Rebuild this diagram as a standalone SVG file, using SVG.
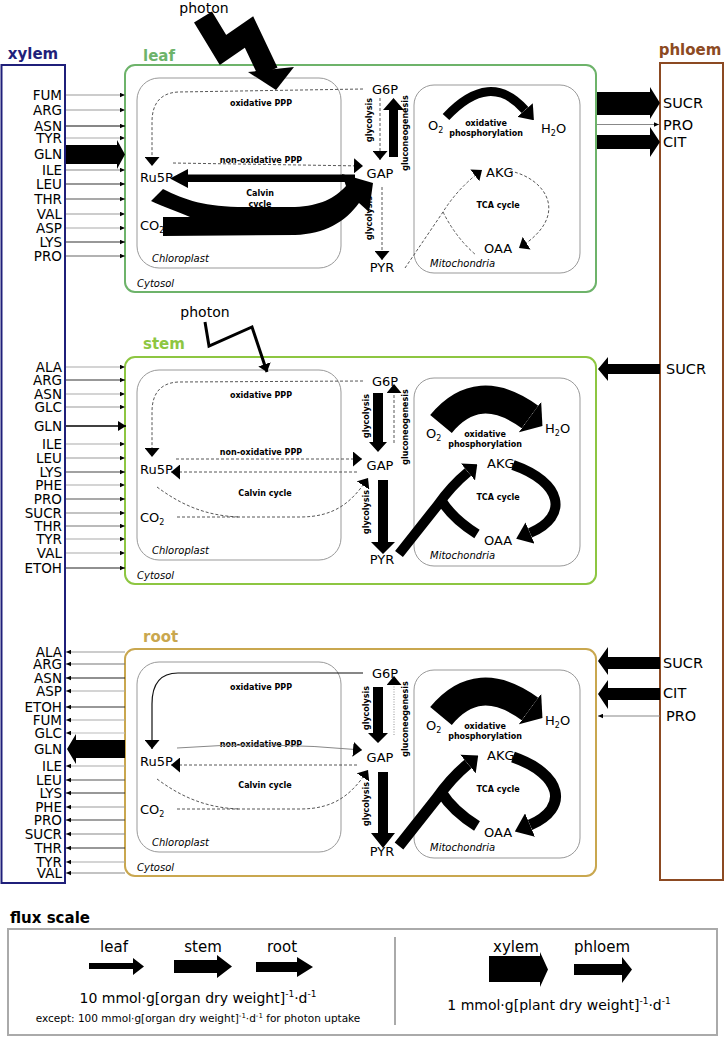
<svg xmlns="http://www.w3.org/2000/svg" width="725" height="1037" viewBox="0 0 725 1037">
<style>
.t{font-family:"DejaVu Sans",Verdana,sans-serif;fill:#000}
.lab{font-size:13.5px;text-anchor:end}
.plab{font-size:14.5px}
.met{font-size:13px}
.b8{font-size:8px;font-weight:bold}
.it{font-size:10px;font-style:italic}
.ttl{font-size:15px;font-weight:bold}
.dash{fill:none;stroke:#444;stroke-width:0.9;stroke-dasharray:3 2}
.thin{fill:none;stroke-width:1.2}
.chl{fill:none;stroke:#999;stroke-width:1}
.band{fill:none;stroke:#000;stroke-linecap:butt}
</style>
<defs>
<marker id="mT" viewBox="0 0 10 10" refX="10" refY="5" markerUnits="userSpaceOnUse" markerWidth="5" markerHeight="5" orient="auto"><path d="M0,0.5 L10,5 L0,9.5 z" fill="#000"/></marker>
<marker id="mT2" viewBox="0 0 10 10" refX="10" refY="5" markerUnits="userSpaceOnUse" markerWidth="8" markerHeight="10" orient="auto" preserveAspectRatio="none"><path d="M0,0 L10,5 L0,10 z" fill="#000"/></marker>
<marker id="mD" viewBox="0 0 10 10" refX="10" refY="5" markerUnits="userSpaceOnUse" markerWidth="9" markerHeight="15" orient="auto" preserveAspectRatio="none"><path d="M0,0 L10,5 L0,10 z" fill="#000"/></marker>
<marker id="mP" viewBox="0 0 10 10" refX="10" refY="5" markerUnits="userSpaceOnUse" markerWidth="8" markerHeight="13" orient="auto" preserveAspectRatio="none"><path d="M0,0 L10,5 L0,10 z" fill="#000"/></marker>
<marker id="mK" viewBox="0 0 10 10" refX="0" refY="5" markerWidth="1.5" markerHeight="2.3" orient="auto" preserveAspectRatio="none"><path d="M0,0 L10,5 L0,10 z" fill="#000"/></marker>
<marker id="mK2" viewBox="0 0 10 10" refX="0" refY="5" markerWidth="1.2" markerHeight="2.2" orient="auto" preserveAspectRatio="none"><path d="M0,0 L10,5 L0,10 z" fill="#000"/></marker>
<marker id="mW" viewBox="0 0 10 10" refX="0" refY="5" markerWidth="0.55" markerHeight="1.35" orient="auto" preserveAspectRatio="none"><path d="M0,0 L10,5 L0,10 z" fill="#000"/></marker>
</defs>
<rect width="725" height="1037" fill="#fff"/>

<!-- xylem -->
<g id="xylem">
<rect x="1.5" y="65" width="63.5" height="818" fill="none" stroke="#1f1f7a" stroke-width="2"/>
<text x="33" y="59" class="t ttl" text-anchor="middle" style="fill:#1f1f7a">xylem</text>
<g class="t lab">
<text x="62" y="100">FUM</text><text x="62" y="115">ARG</text><text x="62" y="131">ASN</text><text x="62" y="143">TYR</text><text x="62" y="159">GLN</text><text x="62" y="175">ILE</text><text x="62" y="189">LEU</text><text x="62" y="204">THR</text><text x="62" y="219">VAL</text><text x="62" y="233">ASP</text><text x="62" y="247">LYS</text><text x="62" y="261">PRO</text>
<text x="62" y="372">ALA</text><text x="62" y="385">ARG</text><text x="62" y="399">ASN</text><text x="62" y="412">GLC</text><text x="62" y="431">GLN</text><text x="62" y="449">ILE</text><text x="62" y="463">LEU</text><text x="62" y="477">LYS</text><text x="62" y="490">PHE</text><text x="62" y="504">PRO</text><text x="62" y="518">SUCR</text><text x="62" y="531">THR</text><text x="62" y="544">TYR</text><text x="62" y="558">VAL</text><text x="62" y="573">ETOH</text>
<text x="62" y="657">ALA</text><text x="62" y="669">ARG</text><text x="62" y="683">ASN</text><text x="62" y="696">ASP</text><text x="62" y="712">ETOH</text><text x="62" y="725">FUM</text><text x="62" y="738">GLC</text><text x="62" y="754">GLN</text><text x="62" y="771">ILE</text><text x="62" y="785">LEU</text><text x="62" y="798">LYS</text><text x="62" y="812">PHE</text><text x="62" y="825">PRO</text><text x="62" y="839">SUCR</text><text x="62" y="853">THR</text><text x="62" y="867">TYR</text><text x="62" y="878">VAL</text>
</g>
</g>

<!-- phloem -->
<g id="phloem">
<rect x="660" y="63" width="63" height="817" fill="none" stroke="#8c4a22" stroke-width="2"/>
<text x="690" y="55" class="t ttl" text-anchor="middle" style="fill:#8c4a22">phloem</text>
<g class="t plab">
<text x="663" y="108">SUCR</text><text x="663" y="130">PRO</text><text x="663" y="147">CIT</text>
<text x="666" y="374">SUCR</text>
<text x="663" y="668">SUCR</text><text x="663" y="698">CIT</text><text x="666" y="721">PRO</text>
</g>
</g>

<!-- leaf -->
<g id="leaf">
<rect x="125" y="65" width="471" height="227" rx="10" fill="none" stroke="#6db36a" stroke-width="2"/>
<text x="143" y="61" class="t ttl" style="fill:#6db36a">leaf</text>
<rect x="137" y="78" width="204" height="190" rx="22" class="chl"/>
<rect x="414" y="85" width="166" height="188" rx="20" class="chl"/>
<text x="152" y="262" class="t it">Chloroplast</text>
<text x="137" y="287" class="t it">Cytosol</text>
<text x="430" y="267" class="t it">Mitochondria</text>
<text x="385" y="94" class="t met" text-anchor="middle">G6P</text>
<text x="380" y="178" class="t met" text-anchor="middle">GAP</text>
<text x="382" y="272" class="t met" text-anchor="middle">PYR</text>
<text x="140" y="182" class="t met">Ru5P</text>
<text x="140" y="230" class="t met">CO<tspan font-size="8" dy="3">2</tspan></text>
<text x="486" y="177" class="t met">AKG</text>
<text x="484" y="253" class="t met">OAA</text>
<text x="428" y="130" class="t met">O<tspan font-size="8" dy="3">2</tspan></text>
<text x="541" y="133" class="t met">H<tspan font-size="8" dy="3">2</tspan><tspan dy="-3">O</tspan></text>
<text x="261" y="106" class="t b8" text-anchor="middle">oxidative PPP</text>
<text x="261" y="163" class="t b8" text-anchor="middle">non-oxidative PPP</text>
<text x="260" y="196" class="t b8" text-anchor="middle">Calvin</text>
<text x="260" y="207" class="t b8" text-anchor="middle">cycle</text>
<text x="486" y="126" class="t b8" text-anchor="middle">oxidative</text>
<text x="486" y="136" class="t b8" text-anchor="middle">phosphorylation</text>
<text x="498" y="208" class="t b8" text-anchor="middle">TCA cycle</text>
<text transform="translate(372,120) rotate(-90)" class="t b8" text-anchor="middle">glycolysis</text>
<text transform="translate(372,218) rotate(-90)" class="t b8" text-anchor="middle">glycolysis</text>
<text transform="translate(408,133) rotate(-90)" class="t b8" text-anchor="middle">gluconeogenesis</text>
</g>

<!-- stem -->
<g id="stem" transform="translate(0,292)">
<rect x="125" y="65" width="471" height="227" rx="10" fill="none" stroke="#8dc641" stroke-width="2"/>
<text x="143" y="57" class="t ttl" style="fill:#8dc641">stem</text>
<rect x="137" y="78" width="204" height="190" rx="22" class="chl"/>
<rect x="414" y="86" width="166" height="188" rx="20" class="chl"/>
<text x="152" y="262" class="t it">Chloroplast</text>
<text x="137" y="287" class="t it">Cytosol</text>
<text x="430" y="267" class="t it">Mitochondria</text>
<text x="385" y="94" class="t met" text-anchor="middle">G6P</text>
<text x="380" y="178" class="t met" text-anchor="middle">GAP</text>
<text x="382" y="272" class="t met" text-anchor="middle">PYR</text>
<text x="140" y="182" class="t met">Ru5P</text>
<text x="140" y="230" class="t met">CO<tspan font-size="8" dy="3">2</tspan></text>
<text x="487" y="176" class="t met">AKG</text>
<text x="484" y="253" class="t met">OAA</text>
<text x="426" y="146" class="t met">O<tspan font-size="8" dy="3">2</tspan></text>
<text x="545" y="141" class="t met">H<tspan font-size="8" dy="3">2</tspan><tspan dy="-3">O</tspan></text>
<text x="261" y="106" class="t b8" text-anchor="middle">oxidative PPP</text>
<text x="261" y="163" class="t b8" text-anchor="middle">non-oxidative PPP</text>
<text x="265" y="204" class="t b8" text-anchor="middle">Calvin cycle</text>
<text x="485" y="145" class="t b8" text-anchor="middle">oxidative</text>
<text x="485" y="155" class="t b8" text-anchor="middle">phosphorylation</text>
<text x="498" y="208" class="t b8" text-anchor="middle">TCA cycle</text>
<text transform="translate(369,124) rotate(-90)" class="t b8" text-anchor="middle">glycolysis</text>
<text transform="translate(369,220) rotate(-90)" class="t b8" text-anchor="middle">glycolysis</text>
<text transform="translate(408,135) rotate(-90)" class="t b8" text-anchor="middle">gluconeogenesis</text>
</g>

<!-- root -->
<g id="root" transform="translate(0,584)">
<rect x="125" y="65" width="471" height="227" rx="10" fill="none" stroke="#c9a74f" stroke-width="2"/>
<text x="143" y="58" class="t ttl" style="fill:#c9a74f">root</text>
<rect x="137" y="78" width="204" height="190" rx="22" class="chl"/>
<rect x="414" y="86" width="166" height="188" rx="20" class="chl"/>
<text x="152" y="262" class="t it">Chloroplast</text>
<text x="137" y="287" class="t it">Cytosol</text>
<text x="430" y="267" class="t it">Mitochondria</text>
<text x="385" y="94" class="t met" text-anchor="middle">G6P</text>
<text x="380" y="178" class="t met" text-anchor="middle">GAP</text>
<text x="382" y="272" class="t met" text-anchor="middle">PYR</text>
<text x="140" y="182" class="t met">Ru5P</text>
<text x="140" y="230" class="t met">CO<tspan font-size="8" dy="3">2</tspan></text>
<text x="487" y="176" class="t met">AKG</text>
<text x="484" y="253" class="t met">OAA</text>
<text x="426" y="146" class="t met">O<tspan font-size="8" dy="3">2</tspan></text>
<text x="545" y="141" class="t met">H<tspan font-size="8" dy="3">2</tspan><tspan dy="-3">O</tspan></text>
<text x="261" y="106" class="t b8" text-anchor="middle">oxidative PPP</text>
<text x="261" y="163" class="t b8" text-anchor="middle">non-oxidative PPP</text>
<text x="265" y="204" class="t b8" text-anchor="middle">Calvin cycle</text>
<text x="485" y="145" class="t b8" text-anchor="middle">oxidative</text>
<text x="485" y="155" class="t b8" text-anchor="middle">phosphorylation</text>
<text x="498" y="208" class="t b8" text-anchor="middle">TCA cycle</text>
<text transform="translate(369,124) rotate(-90)" class="t b8" text-anchor="middle">glycolysis</text>
<text transform="translate(369,220) rotate(-90)" class="t b8" text-anchor="middle">glycolysis</text>
<text transform="translate(408,135) rotate(-90)" class="t b8" text-anchor="middle">gluconeogenesis</text>
</g>

<!-- photons -->
<g id="photon-leaf">
<text x="204" y="13" class="t" font-size="14" text-anchor="middle">photon</text>
</g>
<g id="photon-stem">
<text x="205" y="317" class="t" font-size="14" text-anchor="middle">photon</text>
</g>

<!-- connectors -->
<g id="connectors">
<!-- leaf photon -->
<polyline points="203,17 223,50 249,32 268,72" fill="none" stroke="#000" stroke-width="21" stroke-linejoin="miter" stroke-miterlimit="2"/>
<polygon points="248,72 294,67 276,90" fill="#000"/>
<!-- stem photon -->
<polyline points="205,322 209,346 252,327 267,372" fill="none" stroke="#000" stroke-width="3" stroke-linejoin="miter" marker-end="url(#mP)"/>

<!-- xylem -> leaf -->
<g class="thin" marker-end="url(#mT)">
<line x1="66" y1="95" x2="125" y2="95" stroke="#999"/>
<line x1="66" y1="110" x2="125" y2="110" stroke="#999"/>
<line x1="66" y1="126" x2="125" y2="126" stroke="#111"/>
<line x1="66" y1="138" x2="125" y2="138" stroke="#aaa"/>
<line x1="66" y1="170" x2="125" y2="170" stroke="#888"/>
<line x1="66" y1="184" x2="125" y2="184" stroke="#333"/>
<line x1="66" y1="199" x2="125" y2="199" stroke="#555"/>
<line x1="66" y1="214" x2="125" y2="214" stroke="#999"/>
<line x1="66" y1="228" x2="125" y2="228" stroke="#aaa"/>
<line x1="66" y1="242" x2="125" y2="242" stroke="#333"/>
<line x1="66" y1="256" x2="125" y2="256" stroke="#666"/>
</g>
<polygon points="66,145 117,145 117,140 125,154.5 117,169 117,164 66,164" fill="#000"/>

<!-- xylem -> stem -->
<g class="thin" marker-end="url(#mT)">
<line x1="66" y1="367" x2="125" y2="367" stroke="#aaa"/>
<line x1="66" y1="380" x2="125" y2="380" stroke="#333"/>
<line x1="66" y1="394" x2="125" y2="394" stroke="#aaa"/>
<line x1="66" y1="407" x2="125" y2="407" stroke="#999"/>
<line x1="66" y1="444" x2="125" y2="444" stroke="#aaa"/>
<line x1="66" y1="458" x2="125" y2="458" stroke="#999"/>
<line x1="66" y1="472" x2="125" y2="472" stroke="#444"/>
<line x1="66" y1="485" x2="125" y2="485" stroke="#aaa"/>
<line x1="66" y1="499" x2="125" y2="499" stroke="#555"/>
<line x1="66" y1="513" x2="125" y2="513" stroke="#888"/>
<line x1="66" y1="526" x2="125" y2="526" stroke="#777"/>
<line x1="66" y1="539" x2="125" y2="539" stroke="#aaa"/>
<line x1="66" y1="553" x2="125" y2="553" stroke="#aaa"/>
<line x1="66" y1="568" x2="125" y2="568" stroke="#222"/>
</g>
<line x1="66" y1="426" x2="126" y2="426" stroke="#000" stroke-width="1.6" marker-end="url(#mT2)"/>

<!-- root -> xylem -->
<g class="thin" marker-end="url(#mT)">
<line x1="125" y1="652" x2="66" y2="652" stroke="#999"/>
<line x1="125" y1="664" x2="66" y2="664" stroke="#777"/>
<line x1="125" y1="678" x2="66" y2="678" stroke="#222"/>
<line x1="125" y1="691" x2="66" y2="691" stroke="#aaa"/>
<line x1="125" y1="707" x2="66" y2="707" stroke="#333"/>
<line x1="125" y1="720" x2="66" y2="720" stroke="#aaa"/>
<line x1="125" y1="733" x2="66" y2="733" stroke="#bbb"/>
<line x1="125" y1="766" x2="66" y2="766" stroke="#aaa"/>
<line x1="125" y1="780" x2="66" y2="780" stroke="#555"/>
<line x1="125" y1="793" x2="66" y2="793" stroke="#333"/>
<line x1="125" y1="807" x2="66" y2="807" stroke="#999"/>
<line x1="125" y1="820" x2="66" y2="820" stroke="#444"/>
<line x1="125" y1="834" x2="66" y2="834" stroke="#888"/>
<line x1="125" y1="848" x2="66" y2="848" stroke="#333"/>
<line x1="125" y1="862" x2="66" y2="862" stroke="#aaa"/>
<line x1="125" y1="873" x2="66" y2="873" stroke="#888"/>
</g>
<polygon points="125,740 76,740 76,734 67,749 76,764 76,758 125,758" fill="#000"/>

<!-- leaf -> phloem -->
<polygon points="597,92 650,92 650,87 660,103 650,119 650,115 597,115" fill="#000"/>
<line x1="597" y1="124.5" x2="659" y2="124.5" stroke="#888" class="thin" marker-end="url(#mT)"/>
<polygon points="597,135 650,135 650,127 660,142 650,157 650,149 597,149" fill="#000"/>
<!-- phloem -> stem -->
<polygon points="660,364 608,364 608,357 598,369 608,381 608,374 660,374" fill="#000"/>
<!-- phloem -> root -->
<polygon points="660,657 608,657 608,647 598,661 608,675 608,669 660,669" fill="#000"/>
<polygon points="660,688 608,688 608,680 598,694 608,709 608,700 660,700" fill="#000"/>
<line x1="660" y1="716" x2="598" y2="716" stroke="#888" class="thin" marker-end="url(#mT)"/>

<!-- leaf internal -->
<path d="M363 89 L178 92 C160 93 152 104 152 122 L152 166" class="dash" marker-end="url(#mD)"/>
<path d="M173 163 L363 166" class="dash" marker-end="url(#mD)"/>
<polygon points="355,174.5 188,174.5 188,169 170,178.5 188,188 188,182 355,182" fill="#000"/>
<path d="M163 236 L163 217 L190 217 C178 212 162 206 151 201 L163 189 C185 200 205 207 245 207 L295 207 C320 206 335 198 346 186 L342 174 L373 183 L369 212 L359 203 C345 222 325 234 295 235 Z" fill="#000"/>
<path d="M380 98 L380 160" class="dash" marker-end="url(#mD)"/>
<polygon points="389,157 389,110 383,110 393.5,98 404,110 398,110 398,157" fill="#000"/>
<path d="M382 187 L382 260" class="dash" marker-end="url(#mD)"/>
<path d="M405 268 L443 212 Q458 188 482 170" class="dash" marker-end="url(#mD)"/>
<path d="M443 212 Q456 238 476 255" class="dash"/>
<path d="M510 171 C545 178 572 215 519 248" class="dash" marker-end="url(#mD)"/>
<path d="M446 117 Q490 70 525 110" class="band" stroke-width="9" marker-end="url(#mK)"/>

<!-- stem internal -->
<g transform="translate(0,292)">
<path d="M363 89 L178 90 C160 91 152 102 152 120 L152 165" class="dash" marker-end="url(#mD)"/>
<path d="M176 167 L362 167" class="dash" marker-end="url(#mD)"/>
<path d="M357 180 L171 180" class="dash" marker-end="url(#mD)"/>
<path d="M177 225 L300 225 C335 225 352 210 368 186" class="dash" marker-end="url(#mD)"/>
<path d="M157 195 C180 212 205 224 240 225" class="dash"/>
<polygon points="373,101 383,101 383,150 387,150 378,160 369,150 373,150" fill="#000"/>
<path d="M394 151 L394 92" class="dash" marker-end="url(#mD)"/>
<polygon points="378,188 388,188 388,250 395,250 383,262 371,250 378,250" fill="#000"/>
<path d="M399 262 L437 214 Q451 194 468 180" class="band" stroke-width="10" marker-end="url(#mK2)"/>
<path d="M477 242 Q453 227 441 208" class="band" stroke-width="10"/>
<path d="M513 173 C562 190 570 224 530 241" class="band" stroke-width="10" marker-end="url(#mK)"/>
<path d="M441 132 Q478 87 530 125" class="band" stroke-width="28" marker-end="url(#mW)"/>
</g>

<!-- root internal -->
<g transform="translate(0,584)">
<path d="M363 89 L178 89 C160 89 152 100 152 120 L152 165" fill="none" stroke="#111" stroke-width="1.2" marker-end="url(#mD)"/>
<path d="M177 164 Q265 157 362 166" fill="none" stroke="#888" stroke-width="1" marker-end="url(#mD)"/>
<path d="M357 181 L171 181" class="dash" marker-end="url(#mD)"/>
<path d="M177 225 L300 225 C335 225 352 210 368 186" class="dash" marker-end="url(#mD)"/>
<path d="M157 195 C180 212 205 224 240 225" class="dash"/>
<polygon points="373,103 383,103 383,149 388,149 378,159 368,149 373,149" fill="#000"/>
<path d="M394 151 L394 92" fill="none" stroke="#777" stroke-width="0.8" stroke-dasharray="1 1.5" marker-end="url(#mD)"/>
<polygon points="378,188 388,188 388,249 395,249 383,264 371,249 378,249" fill="#000"/>
<path d="M399 262 L437 214 Q451 194 468 180" class="band" stroke-width="11" marker-end="url(#mK2)"/>
<path d="M477 242 Q453 227 441 208" class="band" stroke-width="11"/>
<path d="M513 173 C562 190 570 224 530 241" class="band" stroke-width="11" marker-end="url(#mK)"/>
<path d="M441 132 Q478 87 530 125" class="band" stroke-width="28" marker-end="url(#mW)"/>
</g>
</g>

<!-- flux scale legend -->
<g id="legend">
<text x="10" y="923" class="t ttl">flux scale</text>
<rect x="8" y="929" width="709" height="106" fill="none" stroke="#aaa" stroke-width="2"/>
<line x1="395" y1="937" x2="395" y2="1025" stroke="#aaa" stroke-width="2"/>
<text x="114" y="952" class="t" font-size="15" text-anchor="middle">leaf</text>
<text x="203" y="952" class="t" font-size="15" text-anchor="middle">stem</text>
<text x="282" y="952" class="t" font-size="15" text-anchor="middle">root</text>
<text x="516" y="952" class="t" font-size="15" text-anchor="middle">xylem</text>
<text x="602" y="952" class="t" font-size="15" text-anchor="middle">phloem</text>
<polygon points="89,963 133,963 133,958 144,966.5 133,975 133,969 89,969" fill="#000"/>
<polygon points="174,960 217,960 217,955 232,966.5 217,978 217,973 174,973" fill="#000"/>
<polygon points="256,962 297,962 297,957 313,967 297,977 297,972 256,972" fill="#000"/>
<polygon points="489,956 540,956 540,952 548,969.5 540,987 540,982 489,982" fill="#000"/>
<polygon points="574,964 622,964 622,957 632,969.5 622,983 622,975 574,975" fill="#000"/>
<text x="198" y="1003" class="t" font-size="14" text-anchor="middle">10 mmol·g[organ dry weight]<tspan font-size="9" dy="-6">-1</tspan><tspan dy="6">·d</tspan><tspan font-size="9" dy="-6">-1</tspan></text>
<text x="198" y="1022" class="t" font-size="10.5" text-anchor="middle">except: 100 mmol·g[organ dry weight]<tspan font-size="7" dy="-4">-1</tspan><tspan dy="4">·d</tspan><tspan font-size="7" dy="-4">-1</tspan><tspan dy="4"> for photon uptake</tspan></text>
<text x="559" y="1010" class="t" font-size="14" text-anchor="middle">1 mmol·g[plant dry weight]<tspan font-size="9" dy="-6">-1</tspan><tspan dy="6">·d</tspan><tspan font-size="9" dy="-6">-1</tspan></text>
</g>
</svg>
